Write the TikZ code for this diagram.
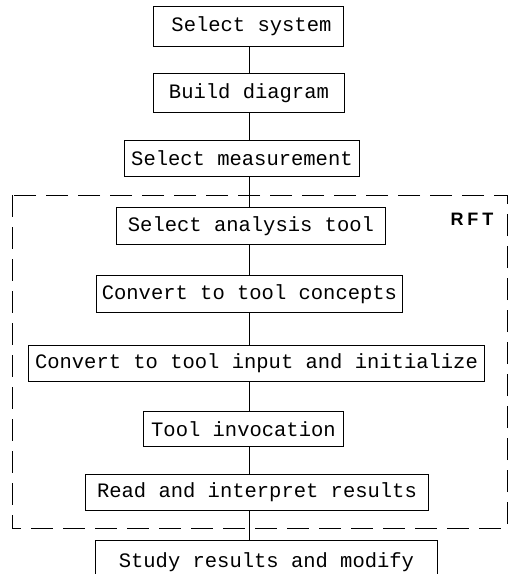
\documentclass[tikz,border=0pt]{standalone}
\usepackage{fontspec}
\setmonofont{Liberation Mono}
\newfontfamily\rftfont{Liberation Sans}
\tikzset{
  stepbox/.style={draw, line width=0.9pt, inner sep=0pt, font=\ttfamily\fontsize{20.5}{22}\selectfont, anchor=north west},
  link/.style={line width=0.9pt},
  frame/.style={line width=0.9pt, dash pattern=on 22pt off 10pt}
}
\begin{document}
\begin{tikzpicture}[x=1pt,y=-1pt]
\clip (0,0) rectangle (513,574);
\fill[white] (0,0) rectangle (513,574);
\coordinate (spine) at (249,0);
\node[stepbox, minimum width=190pt, minimum height=40pt] (b1) at (153,6) {\hspace{6pt}Select system};
\node[stepbox, minimum width=191pt, minimum height=39pt] (b2) at (153,73) {Build diagram};
\node[stepbox, minimum width=235pt, minimum height=36pt] (b3) at (124,140) {Select measurement};
\node[stepbox, minimum width=269pt, minimum height=37pt] (b4) at (116,207) {Select analysis tool};
\node[stepbox, minimum width=306pt, minimum height=37pt] (b5) at (96,275) {Convert to tool concepts};
\node[stepbox, minimum width=456pt, minimum height=36pt] (b6) at (28,345) {Convert to tool input and initialize};
\node[stepbox, minimum width=200pt, minimum height=35pt] (b7) at (143,411) {Tool invocation};
\node[stepbox, minimum width=343pt, minimum height=36pt] (b8) at (85,474) {Read and interpret results};
\node[stepbox, minimum width=342pt, minimum height=44pt] (b9) at (95,540) {Study results and modify};
\foreach \a/\b in {b1/b2,b2/b3,b3/b4,b4/b5,b5/b6,b6/b7,b7/b8,b8/b9}
  \draw[link] (\a.south -| spine) -- (\b.north -| spine);
\draw[frame] (12,195) rectangle (507,528);
\node[font=\rftfont\bfseries\fontsize{18}{20}\selectfont, anchor=center] (rft) at (472,219) {R\hspace{4pt}F\hspace{4pt}T};
\end{tikzpicture}
\end{document}
